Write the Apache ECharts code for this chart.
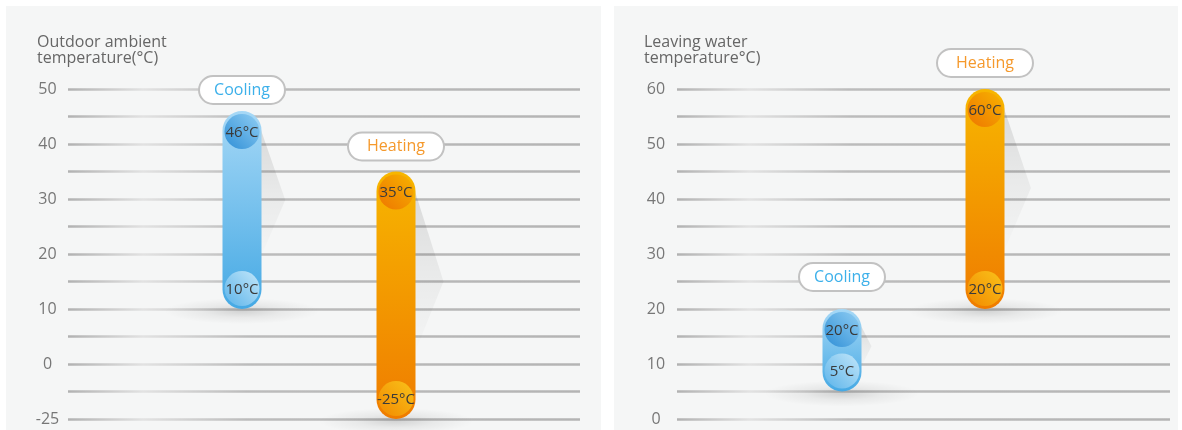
<!DOCTYPE html>
<html>
<head>
<meta charset="utf-8">
<script src="https://cdn.jsdelivr.net/npm/echarts@6/dist/echarts.min.js"></script>
<style>
html,body{margin:0;padding:0;background:#ffffff;}
#c{width:1182px;height:430px;}
</style>
</head>
<body>
<div id="c"></div>
<script>
// ---- data ----
const leftTitle = 'Outdoor ambient\ntemperature(°C)';
const rightTitle = 'Leaving water\ntemperature°C)';
const leftCategories = ['Cooling', 'Heating'];
const leftLow = [10, -25];
const leftHigh = [46, 35];
const rightCategories = ['Cooling', 'Heating'];
const rightLow = [5, 20];
const rightHigh = [20, 60];
const leftTickLabels = ['-25', '0', '10', '20', '30', '40', '50'];
const rightTickLabels = ['0', '10', '20', '30', '40', '50', '60'];

// left axis is compressed below zero (-25 is drawn one major step below 0)
function leftPos(v) { return v >= 0 ? v : v * 10 / 25; }

const FONT = '"Open Sans", "Noto Sans", sans-serif';

const palettes = {
  Cooling: {
    text: '#3cb0ea',
    bar: new echarts.graphic.LinearGradient(0, 0, 0, 1, [
      {offset: 0, color: '#a6d8f6'}, {offset: 1, color: '#45a9e4'}]),
    topCircle: new echarts.graphic.LinearGradient(0, 1, 1, 0, [
      {offset: 0, color: '#2f8fd6'}, {offset: 1, color: '#8fcdf3'}]),
    botCircle: new echarts.graphic.LinearGradient(0, 1, 1, 0, [
      {offset: 0, color: '#5cb4ea'}, {offset: 1, color: '#c2e6f9'}])
  },
  Heating: {
    text: '#f5992c',
    bar: new echarts.graphic.LinearGradient(0, 0, 0, 1, [
      {offset: 0, color: '#f7b600'}, {offset: 1, color: '#ef7c00'}]),
    topCircle: new echarts.graphic.LinearGradient(0, 1, 1, 0, [
      {offset: 0, color: '#ee7600'}, {offset: 1, color: '#f7b200'}]),
    botCircle: new echarts.graphic.LinearGradient(0, 1, 1, 0, [
      {offset: 0, color: '#f28a00'}, {offset: 1, color: '#f9c21a'}])
  }
};

function makeRender(cats, lows, highs, pillOffsets) {
  return function (params, api) {
    const i = api.value(0), lo = api.value(1), hi = api.value(2);
    const t = api.coord([i, hi]);
    const b = api.coord([i, lo]);
    const x = t[0], y1 = t[1], y2 = b[1];
    const w = 39, r = w / 2, len = y2 - y1;
    const cat = cats[i];
    const pal = palettes[cat];
    const dy = Math.min(110, len * 0.45);
    const dx = Math.min(28, Math.max(10, len * 0.12));
    const pillW = cat === 'Cooling' ? 86 : 96;
    const pillCy = y1 - pillOffsets[i];
    const lowLabel = lows[i] + '°C', highLabel = highs[i] + '°C';
    return {
      type: 'group',
      children: [
        {type: 'circle', x: x, y: y2 + 2, scaleX: 6, scaleY: 1, shape: {cx: 0, cy: 0, r: 13},
          style: {fill: new echarts.graphic.RadialGradient(0.5, 0.5, 0.5, [
            {offset: 0, color: 'rgba(0,0,0,0.14)'}, {offset: 0.5, color: 'rgba(0,0,0,0.05)'}, {offset: 1, color: 'rgba(0,0,0,0)'}])}},
        {type: 'polygon', shape: {points: [[x + r - 3, y1 + 12], [x + r + dx, y1 + dy], [x + r - 3, y1 + dy * 1.7]]},
          style: {fill: new echarts.graphic.LinearGradient(0, 0, 0, 1, [
            {offset: 0, color: 'rgba(0,0,0,0.12)'}, {offset: 0.5, color: 'rgba(0,0,0,0.05)'}, {offset: 1, color: 'rgba(0,0,0,0)'}])}},
        {type: 'rect', shape: {x: x - r, y: y1, width: w, height: len, r: r}, style: {fill: pal.bar}},
        {type: 'circle', shape: {cx: x, cy: y1 + r + 1, r: r - 2}, style: {fill: pal.topCircle}},
        {type: 'circle', shape: {cx: x, cy: y2 - r - 1, r: r - 2}, style: {fill: pal.botCircle}},
        {type: 'text', x: x, y: y1 + r + 2, style: {text: highLabel, fill: '#3a3a3a', font: '15px ' + FONT, align: 'center', verticalAlign: 'middle'}},
        {type: 'text', x: x, y: y2 - r, style: {text: lowLabel, fill: '#3a3a3a', font: '15px ' + FONT, align: 'center', verticalAlign: 'middle'}},
        {type: 'rect', shape: {x: x - pillW / 2, y: pillCy - 14, width: pillW, height: 28, r: 14},
          style: {fill: '#ffffff', stroke: '#c2c2c2', lineWidth: 2}},
        {type: 'text', x: x, y: pillCy, style: {text: cat, fill: pal.text, font: '16px ' + FONT, align: 'center', verticalAlign: 'middle'}}
      ]
    };
  };
}

const gridLineColor = new echarts.graphic.LinearGradient(0, 0, 1, 0, [
  {offset: 0, color: '#b0b0b0'}, {offset: 0.15, color: '#e2e2e2'}, {offset: 0.35, color: '#bcbcbc'}, {offset: 1, color: '#b4b4b4'}]);

const chart = echarts.init(document.getElementById('c'));
chart.setOption({
  animation: false,
  graphic: [
    {type: 'rect', z: -10, shape: {x: 6, y: 6, width: 595, height: 430}, style: {fill: '#f5f6f6'}},
    {type: 'rect', z: -10, shape: {x: 614, y: 6, width: 564, height: 430}, style: {fill: '#f5f6f6'}}
  ],
  title: [
    {text: leftTitle, left: 32, top: 29, textStyle: {fontSize: 16, lineHeight: 16, color: '#666', fontWeight: 'normal', fontFamily: FONT}},
    {text: rightTitle, left: 639, top: 29, textStyle: {fontSize: 16, lineHeight: 16, color: '#666', fontWeight: 'normal', fontFamily: FONT}}
  ],
  grid: [
    {left: 68, right: 602, top: 89, bottom: 11},
    {left: 677, right: 12, top: 89, bottom: 11}
  ],
  xAxis: [
    {type: 'value', gridIndex: 0, min: -(242 - 68) / 154, max: (580 - 242) / 154, show: false},
    {type: 'value', gridIndex: 1, min: -(842 - 677) / 143, max: (1170 - 842) / 143, show: false}
  ],
  yAxis: [
    {type: 'value', gridIndex: 0, min: -10, max: 50, interval: 5,
      axisLine: {show: false}, axisTick: {show: false},
      axisLabel: {margin: 20.5, align: 'center', color: '#777', fontSize: 16, fontFamily: FONT,
        formatter: function (v) { return v % 10 === 0 ? leftTickLabels[(v + 10) / 10] : ''; }},
      splitLine: {lineStyle: {color: gridLineColor, width: 2.5}}},
    {type: 'value', gridIndex: 1, min: 0, max: 60, interval: 5,
      axisLine: {show: false}, axisTick: {show: false},
      axisLabel: {margin: 21, align: 'center', color: '#777', fontSize: 16, fontFamily: FONT,
        formatter: function (v) { return v % 10 === 0 ? rightTickLabels[v / 10] : ''; }},
      splitLine: {lineStyle: {color: gridLineColor, width: 2.5}}}
  ],
  series: [
    {type: 'custom', xAxisIndex: 0, yAxisIndex: 0, clip: false,
      renderItem: makeRender(leftCategories, leftLow, leftHigh, [21, 25]),
      data: leftCategories.map((c, i) => [i, leftPos(leftLow[i]), leftPos(leftHigh[i])]),
      encode: {x: 0, y: [1, 2]}},
    {type: 'custom', xAxisIndex: 1, yAxisIndex: 1, clip: false,
      renderItem: makeRender(rightCategories, rightLow, rightHigh, [32, 26]),
      data: rightCategories.map((c, i) => [i, rightLow[i], rightHigh[i]]),
      encode: {x: 0, y: [1, 2]}}
  ]
});
</script>
</body>
</html>
